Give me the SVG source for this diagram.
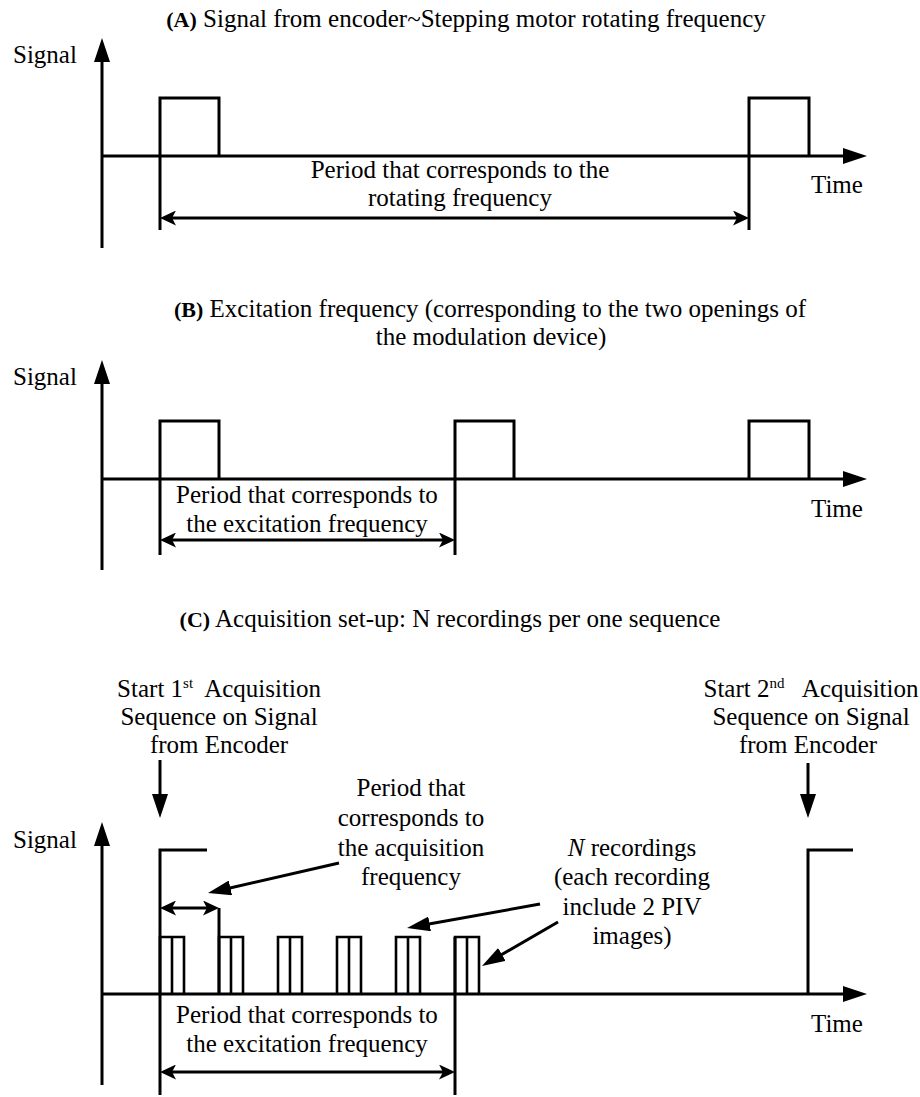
<svg xmlns="http://www.w3.org/2000/svg" width="920" height="1097" viewBox="0 0 920 1097">
<style>
.ln{stroke:#000;stroke-width:3;fill:none}
.thin{stroke:#000;stroke-width:2.6;fill:none}
.t{font-family:"Liberation Serif","Times New Roman",serif;font-size:25px;fill:#000}
.m{text-anchor:middle}
.b{font-weight:bold;font-size:22px}
.sup{font-size:15px}
</style>
<defs>
<marker id="axHead" markerUnits="userSpaceOnUse" markerWidth="24" markerHeight="16" viewBox="0 0 24 16" refX="14" refY="8" orient="auto"><path d="M0,0 L24,8 L0,16 z" fill="#000"/></marker>
<marker id="dblHead" markerUnits="userSpaceOnUse" markerWidth="16" markerHeight="15" viewBox="0 0 16 15" refX="10" refY="7.5" orient="auto-start-reverse"><path d="M0,0 L16,7.5 L0,15 L4,7.5 z" fill="#000"/></marker>
<marker id="annHead" markerUnits="userSpaceOnUse" markerWidth="23" markerHeight="15" viewBox="0 0 23 15" refX="15" refY="7.5" orient="auto"><path d="M0,0 L23,7.5 L0,15 z" fill="#000"/></marker>
</defs>
<rect width="920" height="1097" fill="#fff"/>

<!-- Panel A -->
<g id="panelA">
<text class="t m" x="466" y="27"><tspan class="b">(A)</tspan> Signal from encoder~Stepping motor rotating frequency</text>
<text class="t" x="13" y="63">Signal</text>
<text class="t" x="811" y="193">Time</text>
<text class="t m" x="460" y="178">Period that corresponds to the</text>
<text class="t m" x="460" y="206">rotating frequency</text>
<path class="ln" d="M160,230 V98 H219 V156"/>
<path class="ln" d="M749,230 V98 H809 V156"/>
</g>

<!-- Panel B -->
<g id="panelB">
<text class="t m" x="490" y="317"><tspan class="b">(B)</tspan> Excitation frequency (corresponding to the two openings of</text>
<text class="t m" x="491" y="345">the modulation device)</text>
<text class="t" x="13" y="385">Signal</text>
<text class="t" x="811" y="517">Time</text>
<text class="t m" x="307" y="503">Period that corresponds to</text>
<text class="t m" x="307" y="532">the excitation frequency</text>
<path class="ln" d="M160,555 V421 H219 V479"/>
<path class="ln" d="M455,555 V421 H514 V479"/>
<path class="ln" d="M749,479 V421 H809 V479"/>
</g>

<!-- Panel C -->
<g id="panelC">
<text class="t m" x="450" y="627"><tspan class="b">(C)</tspan> Acquisition set-up: N recordings per one sequence</text>
<text class="t m" x="219" y="697" xml:space="preserve">Start 1<tspan class="sup" dy="-9">st</tspan><tspan dy="9">  Acquisition</tspan></text>
<text class="t m" x="219" y="725">Sequence on Signal</text>
<text class="t m" x="219" y="753">from Encoder</text>
<text class="t m" x="811" y="697" xml:space="preserve">Start 2<tspan class="sup" dy="-9">nd</tspan><tspan dy="9">   Acquisition</tspan></text>
<text class="t m" x="811" y="725">Sequence on Signal</text>
<text class="t m" x="808" y="753">from Encoder</text>
<text class="t" x="13" y="848">Signal</text>
<text class="t" x="811" y="1032">Time</text>
<text class="t m" x="411" y="796">Period that</text>
<text class="t m" x="411" y="826">corresponds to</text>
<text class="t m" x="411" y="856">the acquisition</text>
<text class="t m" x="411" y="885">frequency</text>
<text class="t m" x="632" y="856"><tspan font-style="italic">N</tspan> recordings</text>
<text class="t m" x="632" y="885">(each recording</text>
<text class="t m" x="632" y="915">include 2 PIV</text>
<text class="t m" x="632" y="944">images)</text>
<text class="t m" x="307" y="1023">Period that corresponds to</text>
<text class="t m" x="307" y="1052">the excitation frequency</text>
<path class="ln" d="M207,850 H160 V1095"/>
<path class="ln" d="M219,908 V994"/>
<path class="ln" d="M455,937 V1095"/>
<path class="ln" d="M808,994 V850 H853"/>
<g id="groups">
<path class="thin" d="M160,994 V937 H184 V994 M172,937 V994"/>
<path class="thin" d="M219,994 V937 H243 V994 M231,937 V994"/>
<path class="thin" d="M278,994 V937 H302 V994 M290,937 V994"/>
<path class="thin" d="M337,994 V937 H361 V994 M349,937 V994"/>
<path class="thin" d="M396,994 V937 H420 V994 M408,937 V994"/>
<path class="thin" d="M455,994 V937 H479 V994 M467,937 V994"/>
</g>
</g>

<!-- Connectors / axes -->
<g id="connectors">
<line class="ln" x1="102" y1="248" x2="102" y2="48" marker-end="url(#axHead)"/>
<line class="ln" x1="102" y1="156" x2="857" y2="156" marker-end="url(#axHead)"/>
<line class="ln" x1="166" y1="218" x2="743" y2="218" marker-start="url(#dblHead)" marker-end="url(#dblHead)"/>

<line class="ln" x1="102" y1="570" x2="102" y2="370" marker-end="url(#axHead)"/>
<line class="ln" x1="102" y1="479" x2="857" y2="479" marker-end="url(#axHead)"/>
<line class="ln" x1="166" y1="540" x2="449" y2="540" marker-start="url(#dblHead)" marker-end="url(#dblHead)"/>

<line class="ln" x1="102" y1="1085" x2="102" y2="832" marker-end="url(#axHead)"/>
<line class="ln" x1="102" y1="994" x2="857" y2="994" marker-end="url(#axHead)"/>
<line class="ln" x1="166" y1="908" x2="213" y2="908" marker-start="url(#dblHead)" marker-end="url(#dblHead)"/>
<line class="ln" x1="166" y1="1072" x2="449" y2="1072" marker-start="url(#dblHead)" marker-end="url(#dblHead)"/>
<line class="ln" x1="160" y1="760" x2="160" y2="808" marker-end="url(#axHead)"/>
<line class="ln" x1="808" y1="763" x2="808" y2="808" marker-end="url(#axHead)"/>
<line class="ln" x1="339" y1="863" x2="215.8" y2="891.2" marker-end="url(#annHead)"/>
<line class="ln" x1="540" y1="904" x2="414.9" y2="926.6" marker-end="url(#annHead)"/>
<line class="ln" x1="558" y1="922" x2="488.9" y2="962" marker-end="url(#annHead)"/>
</g>
</svg>
